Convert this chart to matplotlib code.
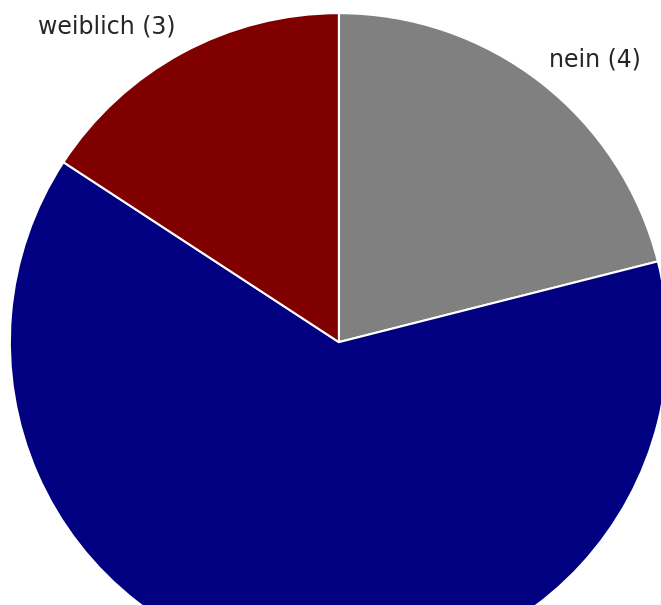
import matplotlib.pyplot as plt

# slice data, clockwise from 12 o'clock
labels = ['nein', '', 'weiblich']
counts = [4, 12, 3]
colors = ['#808080', '#000080', '#800000']

texts = ['{} ({})'.format(l, c) if l else '' for l, c in zip(labels, counts)]

fig = plt.figure(figsize=(6.61, 6.05), dpi=100)
ax = fig.add_axes([0, 0, 1, 1])

_, label_texts = ax.pie(counts, labels=texts, colors=colors, startangle=90,
                        counterclock=False, labeldistance=1.09, radius=1,
                        wedgeprops={'edgecolor': 'white', 'linewidth': 1.5},
                        textprops={'fontsize': 17, 'color': '#262626'})

# pull labels slightly in towards the middle horizontally
for t in label_texts:
    x, y = t.get_position()
    t.set_position((x * 0.955, y))

# pie is larger than the canvas and gets cut off at right and bottom
ax.set_aspect('auto')
ax.set_xlim(-1.030, 0.979)
ax.set_ylim(-0.799, 1.040)
ax.axis('off')

fig.savefig('out.png', dpi=100)
